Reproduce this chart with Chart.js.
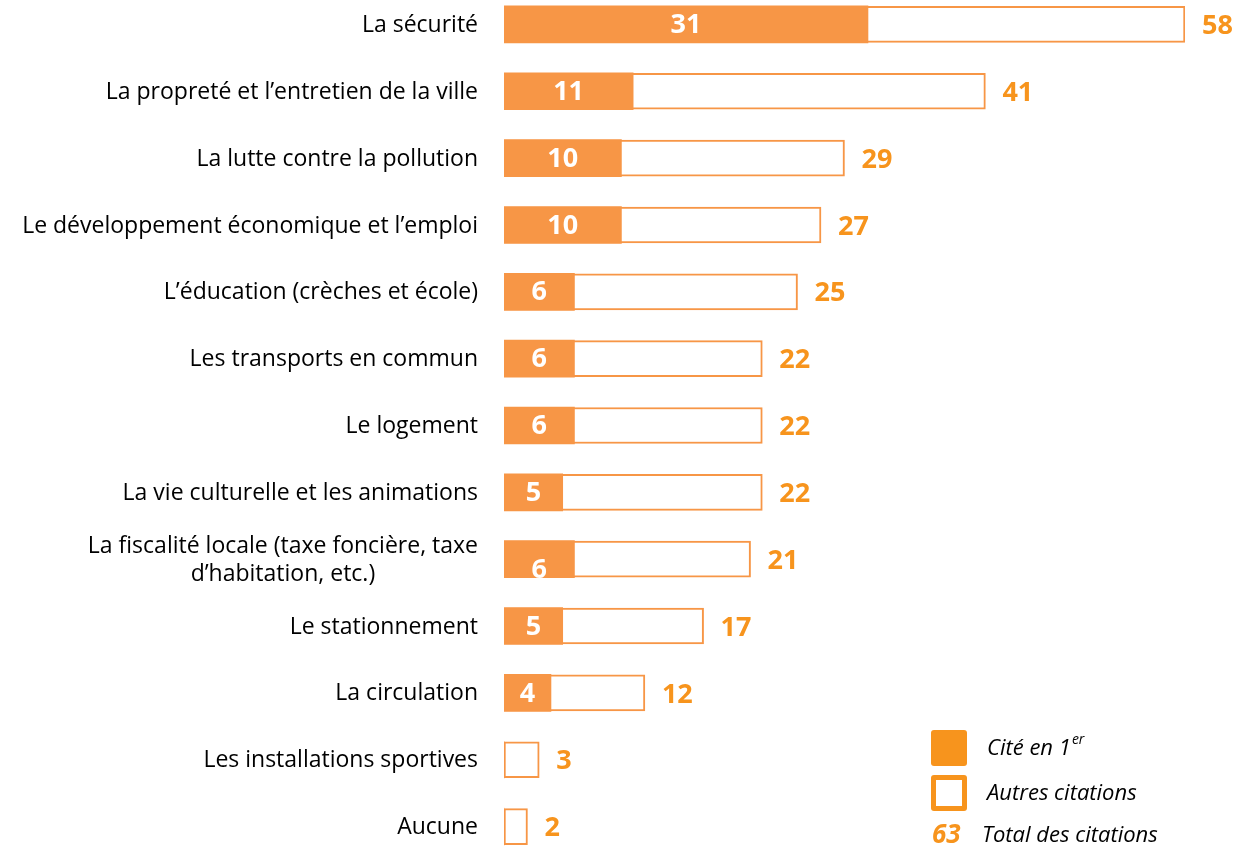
<!DOCTYPE html>
<html>
<head>
<meta charset="utf-8">
<script src="https://cdn.jsdelivr.net/npm/chart.js@4.4.0/dist/chart.umd.min.js"></script>
<style>
  html, body { margin: 0; padding: 0; background: #fff; }
  #wrap { position: relative; width: 1236px; height: 847px; overflow: hidden; }
  #chart { position: absolute; left: 0; top: -9px; }
</style>
</head>
<body>
<div id="wrap"><canvas id="chart" width="1236" height="869"></canvas></div>
<script>
var categories = [
  'La sécurité',
  'La propreté et l’entretien de la ville',
  'La lutte contre la pollution',
  'Le développement économique et l’emploi',
  'L’éducation (crèches et école)',
  'Les transports en commun',
  'Le logement',
  'La vie culturelle et les animations',
  ['La fiscalité locale (taxe foncière, taxe', 'd’habitation, etc.)'],
  'Le stationnement',
  'La circulation',
  'Les installations sportives',
  'Aucune'
];
var citeEnPremier = [31, 11, 10, 10, 6, 6, 6, 5, 6, 5, 4, 0, 0];
var totalCitations = [58, 41, 29, 27, 25, 22, 22, 22, 21, 17, 12, 3, 2];
var totalExemple = 63;

var ORANGE_BAR = '#F79646';
var ORANGE_TXT = '#F7941D';
var FONT = '"Open Sans", Lato, sans-serif';

// labels, valeurs et legende dessines a la main
var labelsPlugin = {
  id: 'labelsPlugin',
  afterDatasetsDraw: function(chart) {
    var ctx = chart.ctx;
    var xs = chart.scales.x, ys = chart.scales.y;
    ctx.save();

    // noms des categories
    ctx.fillStyle = '#000';
    ctx.font = '23px ' + FONT;
    ctx.textBaseline = 'middle';
    categories.forEach(function(c, i) {
      var y = ys.getPixelForValue(i);
      if (Array.isArray(c)) {
        var w = Math.max.apply(null, c.map(function(s){ return ctx.measureText(s).width; }));
        var cx = 478 - w / 2;
        ctx.textAlign = 'center';
        ctx.fillText(c[0], cx, y - 13);
        ctx.fillText(c[1], cx, y + 15);
      } else {
        ctx.textAlign = 'right';
        ctx.fillText(c, 478, y + 1);
      }
    });

    // valeurs
    ctx.font = 'bold 27px ' + FONT;
    citeEnPremier.forEach(function(v, i) {
      if (!v) return;
      var y = ys.getPixelForValue(i);
      var x = (xs.getPixelForValue(0) + xs.getPixelForValue(v)) / 2;
      ctx.fillStyle = '#fff';
      ctx.textAlign = 'center';
      ctx.fillText(String(v), x, y + (i === 8 ? 11 : 1));
    });
    totalCitations.forEach(function(v, i) {
      var y = ys.getPixelForValue(i);
      ctx.fillStyle = ORANGE_TXT;
      ctx.textAlign = 'left';
      ctx.fillText(String(v), xs.getPixelForValue(v) + 17, y + 2);
    });

    // legende (coordonnees page + 9)
    var off = 9;
    ctx.fillStyle = ORANGE_TXT;
    ctx.beginPath();
    ctx.roundRect(931, 730 + off, 36, 36, 3);
    ctx.fill();
    ctx.beginPath();
    ctx.roundRect(931, 775 + off, 36, 36, 3);
    ctx.fill();
    ctx.fillStyle = '#fff';
    ctx.fillRect(936, 780 + off, 26, 26);

    ctx.fillStyle = '#000';
    ctx.textAlign = 'left';
    ctx.font = 'italic 22px ' + FONT;
    ctx.fillText('Cité en 1', 987, 749 + off);
    var w1 = ctx.measureText('Cité en 1').width;
    ctx.font = 'italic 14px ' + FONT;
    ctx.fillText('er', 987 + w1 + 1, 740 + off);
    ctx.font = 'italic 22px ' + FONT;
    ctx.fillText('Autres citations', 987, 794 + off);
    ctx.fillText('Total des citations', 982, 836 + off);
    ctx.fillStyle = ORANGE_TXT;
    ctx.font = 'italic bold 26px ' + FONT;
    ctx.fillText(String(totalExemple), 932, 836 + off);

    ctx.restore();
  }
};

var ctx = document.getElementById('chart');
var chart = new Chart(ctx, {
  type: 'bar',
  data: {
    labels: categories,
    datasets: [
      {
        label: 'Cité en 1er',
        data: citeEnPremier,
        backgroundColor: ORANGE_BAR,
        borderWidth: 0,
        barThickness: 37,
        grouped: false,
        order: 0
      },
      {
        label: 'Autres citations',
        data: totalCitations,
        backgroundColor: '#fff',
        borderColor: ORANGE_BAR,
        borderWidth: 2,
        borderSkipped: false,
        barThickness: 36,
        grouped: false,
        order: 1
      }
    ]
  },
  options: {
    indexAxis: 'y',
    responsive: false,
    animation: false,
    devicePixelRatio: 1,
    layout: { padding: { left: 504, right: 51, top: 0, bottom: 0 } },
    scales: {
      x: { display: false, min: 0, max: 58 },
      y: { display: false }
    },
    plugins: {
      legend: { display: false },
      tooltip: { enabled: false }
    }
  },
  plugins: [labelsPlugin]
});
</script>
</body>
</html>
